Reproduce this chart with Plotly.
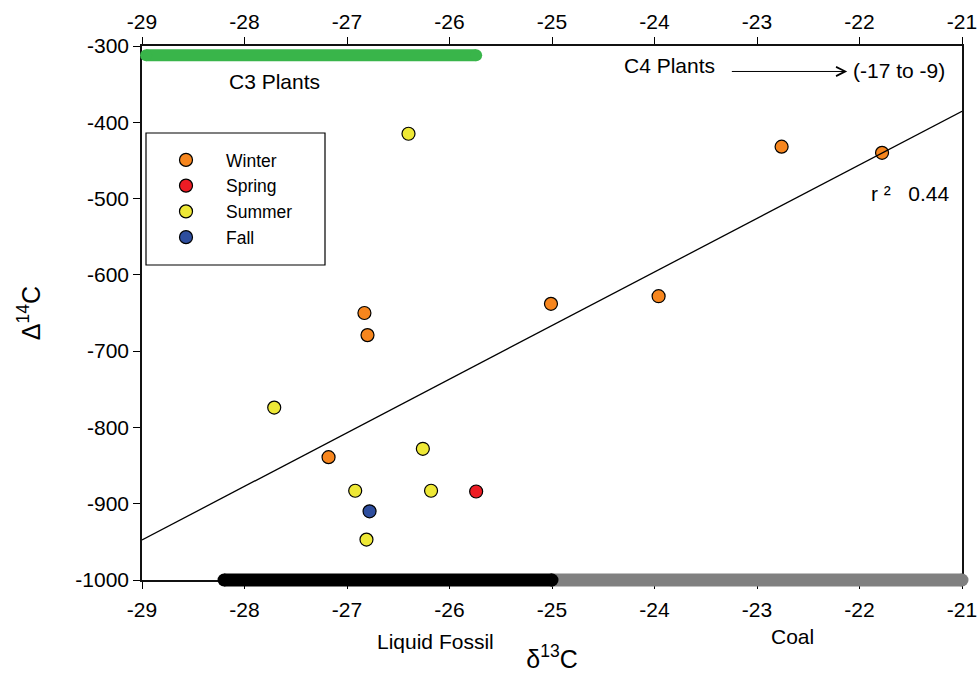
import plotly.graph_objects as go

# ---------------- data ----------------
winter_x = [-22.76, -21.78, -25.01, -23.96, -26.83, -26.80, -27.18]
winter_y = [-432, -440, -638, -628, -650, -679, -839]
spring_x = [-25.74]
spring_y = [-884]
summer_x = [-26.40, -27.71, -26.26, -26.92, -26.18, -26.81]
summer_y = [-415, -774, -828, -883, -883, -947]
fall_x = [-26.78]
fall_y = [-910]

fit_x = [-29.0, -21.0]
fit_y = [-947.5, -385.5]

c3_x = [-28.96, -25.74]
c3_y = [-312, -312]
liquid_x = [-28.20, -25.0]
liquid_y = [-1000, -1000]
coal_x = [-25.0, -21.0]
coal_y = [-1000, -1000]

x_ticks = [-29, -28, -27, -26, -25, -24, -23, -22, -21]
x_tick_text = ["-29", "-28", "-27", "-26", "-25", "-24", "-23", "-22", "-21"]
y_ticks = [-300, -400, -500, -600, -700, -800, -900, -1000]
y_tick_text = ["-300", "-400", "-500", "-600", "-700", "-800", "-900", "-1000"]

# ---------------- geometry ----------------
W, H = 979, 673
L_OUT, R_OUT, T_OUT, B_OUT = 122, 0, 26, 73
PX0, PX1, PY0, PY1 = 142, 962, 46, 580
pw = W - L_OUT - R_OUT
ph = H - T_OUT - B_OUT
xdom = [(PX0 - L_OUT) / pw, (PX1 - L_OUT) / pw]
ydom = [(H - B_OUT - PY1) / ph, (H - B_OUT - PY0) / ph]
X_RANGE = [-29, -21]
Y_RANGE = [-1000, -300]
xs = (X_RANGE[1] - X_RANGE[0]) / (PX1 - PX0)
ys = (Y_RANGE[1] - Y_RANGE[0]) / (PY1 - PY0)
x3_range = [X_RANGE[0] - (PX0 - L_OUT) * xs, X_RANGE[1] + (W - R_OUT - PX1) * xs]
y3_range = [Y_RANGE[0] - (H - B_OUT - PY1) * ys, Y_RANGE[1] + (PY0 - T_OUT) * ys]


def py(px):  # pixel row -> paper fraction
    return (H - B_OUT - px) / ph


def pxx(px):  # pixel column -> paper fraction
    return (px - L_OUT) / pw


FONT = "Liberation Sans, Arial, sans-serif"
MSIZE = 13

fig = go.Figure()


def pts(x, y, name, color):
    fig.add_trace(go.Scatter(
        x=x, y=y, mode="markers", name=name,
        marker=dict(size=MSIZE, color=color, line=dict(color="black", width=1.2)),
    ))


pts(winter_x, winter_y, "Winter", "#F7861E")
pts(spring_x, spring_y, "Spring", "#ED1C24")
pts(summer_x, summer_y, "Summer", "#EEE836")
pts(fall_x, fall_y, "Fall", "#2E4E9E")

fig.add_trace(go.Scatter(x=fit_x, y=fit_y, mode="lines", showlegend=False,
                         line=dict(color="black", width=1.3), hoverinfo="skip"))

# hidden trace to carry the top axis
fig.add_trace(go.Scatter(x=x_ticks, y=[None] * len(x_ticks), xaxis="x2", yaxis="y",
                         mode="markers", showlegend=False, hoverinfo="skip"))


def bar(x, y, color, bw=13):
    fig.add_trace(go.Scatter(x=x, y=y, mode="lines+markers", xaxis="x3", yaxis="y3",
                             showlegend=False, hoverinfo="skip",
                             line=dict(color=color, width=bw),
                             marker=dict(size=bw, color=color, line=dict(width=0))))


bar(c3_x, c3_y, "#39B54A", 12)
bar(coal_x, coal_y, "#808080", 13)
bar(liquid_x, liquid_y, "#000000", 13)

axis_common = dict(
    range=X_RANGE, tickvals=x_ticks, ticktext=x_tick_text, ticks="outside", ticklen=7,
    tickwidth=1, tickcolor="black", showline=True, linecolor="#111", linewidth=1.5,
    showgrid=False, zeroline=False, tickfont=dict(family=FONT, size=21, color="black"),
)

fig.update_layout(
    width=W, height=H,
    margin=dict(l=L_OUT, r=R_OUT, t=T_OUT, b=B_OUT, autoexpand=False),
    paper_bgcolor="white", plot_bgcolor="rgba(0,0,0,0)",
    font=dict(family=FONT, size=21, color="black"),
    xaxis=dict(domain=xdom, anchor="y", side="bottom", ticklabelstandoff=3, **axis_common,
               title=dict(text="δ<sup>13</sup>C", font=dict(size=25), standoff=33),
               automargin=False),
    xaxis2=dict(overlaying="x", anchor="y", side="top", matches="x", **axis_common,
                automargin=False),
    yaxis=dict(domain=ydom, anchor="x", range=Y_RANGE, tickvals=y_ticks, ticktext=y_tick_text,
               ticks="outside", ticklen=7, tickwidth=1, tickcolor="black", showline=True,
               mirror=True, linecolor="#111", linewidth=1.5, showgrid=False, zeroline=False,
               tickfont=dict(family=FONT, size=21, color="black"),
               title=dict(text="Δ<sup>14</sup>C", font=dict(size=25), standoff=28),
               automargin=False),
    xaxis3=dict(domain=[0, 1], anchor="y3", range=x3_range, visible=False, fixedrange=True),
    yaxis3=dict(domain=[0, 1], anchor="x3", range=y3_range, visible=False, fixedrange=True),
    showlegend=True,
    legend=dict(x=pxx(146), y=py(142), xanchor="left", yanchor="top",
                bgcolor="rgba(0,0,0,0)", borderwidth=0, itemwidth=70,
                font=dict(family=FONT, size=17.5, color="black")),
    shapes=[dict(type="rect", xref="paper", yref="paper",
                 x0=pxx(146), x1=pxx(325), y0=py(265), y1=py(133),
                 line=dict(color="black", width=1.2), fillcolor="rgba(0,0,0,0)")],
    annotations=[
        dict(x=-27.71, y=-347, xref="x", yref="y", text="C3 Plants", showarrow=False),
        dict(x=-23.85, y=-325, xref="x", yref="y", text="C4 Plants", showarrow=False),
        dict(x=-21.615, y=-332, xref="x", yref="y", text="(-17 to -9)", showarrow=False),
        dict(x=-22.12, y=-333.4, ax=-23.26, ay=-333.4, xref="x", yref="y", axref="x", ayref="y",
             text="", showarrow=True, arrowhead=5, arrowsize=1.8, arrowwidth=1, arrowcolor="black"),
        dict(x=-21.50, y=-494, xref="x", yref="y", text="r ²   0.44", showarrow=False),
        dict(x=-26.14, y=py(641), xref="x", yref="paper", xanchor="center", yanchor="middle",
             text="Liquid Fossil", showarrow=False),
        dict(x=-22.65, y=py(636), xref="x", yref="paper", xanchor="center", yanchor="middle",
             text="Coal", showarrow=False),
    ],
)

fig.write_html("out.html")
